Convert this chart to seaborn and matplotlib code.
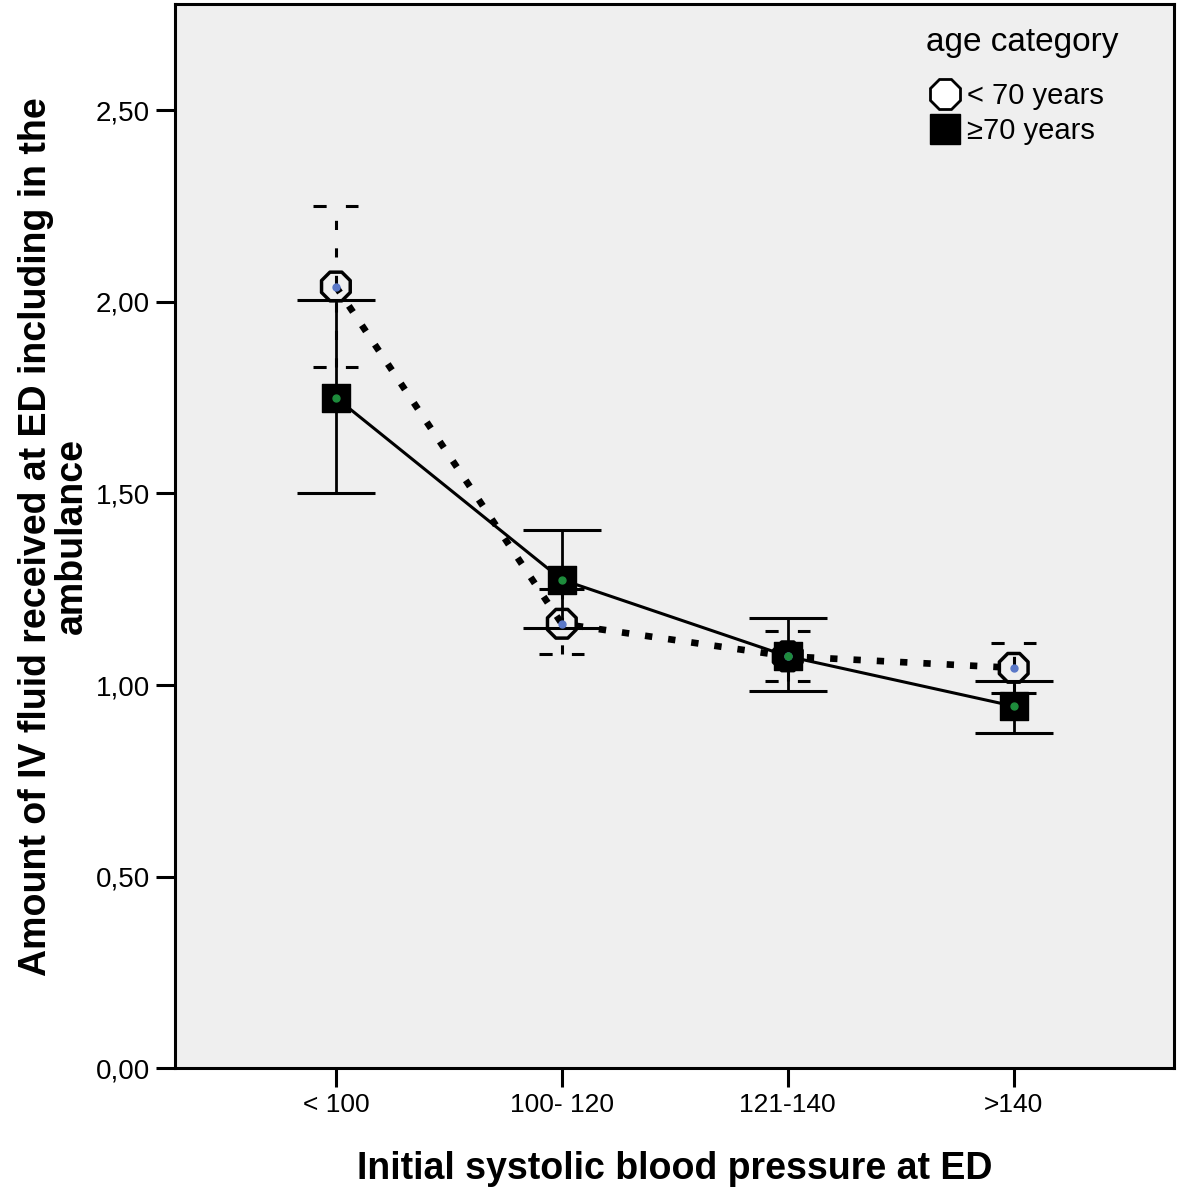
import matplotlib
matplotlib.use("Agg")
import matplotlib.pyplot as plt
import seaborn as sns
import pandas as pd
import numpy as np
from matplotlib.lines import Line2D

categories = ["< 100", "100- 120", "121-140", ">140"]
groups = ["< 70 years", "\u226570 years"]
mean_young = [2.04, 1.16, 1.075, 1.045]
low_young = [1.83, 1.08, 1.01, 0.98]
high_young = [2.25, 1.25, 1.14, 1.11]
mean_old = [1.75, 1.275, 1.075, 0.945]
low_old = [1.50, 1.15, 0.985, 0.875]
high_old = [2.005, 1.405, 1.175, 1.01]
yticks = [0.0, 0.5, 1.0, 1.5, 2.0, 2.5]
ytick_labels = ["0,00", "0,50", "1,00", "1,50", "2,00", "2,50"]

sns.set_theme(style="white")
plt.rcParams["font.family"] = ["Liberation Sans", "DejaVu Sans"]
plt.rcParams["text.color"] = "black"
plt.rcParams["axes.labelcolor"] = "black"
plt.rcParams["xtick.color"] = "black"
plt.rcParams["ytick.color"] = "black"

df = pd.DataFrame({
    "bp": categories * 2,
    "age": [groups[0]] * 4 + [groups[1]] * 4,
    "fluid": mean_young + mean_old,
})

fig = plt.figure(figsize=(11.81, 11.91), dpi=100)
ax = fig.add_axes([0.148, 0.103, 0.846, 0.8936])
ax.set_facecolor("#efefef")

x = np.arange(len(categories))

# lines via seaborn
sns.lineplot(data=df[df.age == groups[1]], x="bp", y="fluid", color="black",
             linewidth=2.2, ax=ax, legend=False, sort=False)
sns.lineplot(data=df[df.age == groups[0]], x="bp", y="fluid", color="black",
             linewidth=4.8, ax=ax, legend=False, sort=False)
ax.lines[-1].set_linestyle((0, (1.1, 2.4)))

# error bars: old (solid)
ax.errorbar(x, mean_old,
            yerr=[np.array(mean_old) - np.array(low_old), np.array(high_old) - np.array(mean_old)],
            fmt="none", ecolor="black", elinewidth=2, capsize=28, capthick=2.2, zorder=3)
# error bars: young (dashed)
ax.vlines(x, low_young, high_young, colors="black", linewidth=2.2,
          linestyles=(0, (3, 6)), zorder=3)
for xi, lo, hi in zip(x, low_young, high_young):
    for yv in (lo, hi):
        ax.hlines(yv, xi - 0.1, xi + 0.1, colors="black", linewidth=2.2,
                  linestyles=(0, (4.3, 6.3, 4.3)), zorder=3)

# markers
ax.scatter(x, mean_young, s=500, marker="8", facecolors="none", edgecolors="black",
           linewidths=2.5, zorder=5)
ax.scatter(x, mean_young, s=25, marker="o", color="#5a78c8", zorder=6)
ax.scatter(x, mean_old, s=400, marker="s", color="black", zorder=5)
ax.scatter(x, mean_old, s=25, marker="o", color="#1e8c3c", zorder=6)

ax.set_xlim(-0.713, 3.709)
ax.set_ylim(0, 2.777)
ax.set_xticks(x)
ax.set_xticklabels(categories, fontsize=19)
ax.set_yticks(yticks)
ax.set_yticklabels(ytick_labels, fontsize=20)
ax.tick_params(axis="both", direction="out", length=14, width=2.2, color="black", pad=4,
               left=True, bottom=True)
for s in ax.spines.values():
    s.set_visible(True)
    s.set_color("black")
    s.set_linewidth(2.2)

ax.set_xlabel("Initial systolic blood pressure at ED", fontsize=27, fontweight="bold", labelpad=24)
ax.set_ylabel("Amount of IV fluid received at ED including in the\nambulance", fontsize=27,
              fontweight="bold", labelpad=4, linespacing=1.0)

handles = [
    Line2D([], [], marker="8", linestyle="none", markersize=23, markerfacecolor="white",
           markeredgecolor="black", markeredgewidth=2),
    Line2D([], [], marker="s", linestyle="none", markersize=21, markerfacecolor="black",
           markeredgecolor="black"),
]
leg = ax.legend(handles, groups, title="age category", loc="upper right",
                bbox_to_anchor=(0.968, 1.0), frameon=False, fontsize=21,
                title_fontsize=24, handletextpad=0.1, labelspacing=0.25, borderpad=0.3,
                handlelength=1.3)
leg._legend_box.align = "left"
leg._legend_box.sep = 17

fig.savefig("out.png", dpi=100, facecolor="white")
